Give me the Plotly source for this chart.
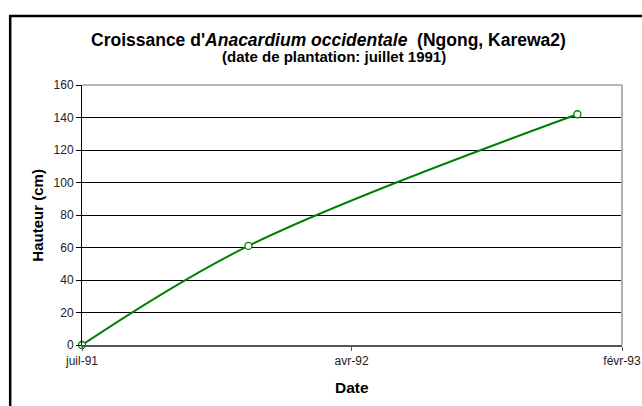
import plotly.graph_objects as go

# Data
dates = ["1991-07-01", "1991-12-27", "1992-12-15"]
heights = [0, 61, 142]

x_range = ["1991-07-01", "1993-02-01"]
x_tickvals = ["1991-07-01", "1992-04-16", "1993-02-01"]
x_ticktext = ["juil-91", "avr-92", "févr-93"]
y_tickvals = [0, 20, 40, 60, 80, 100, 120, 140, 160]

FONT = "Liberation Sans, Arial, sans-serif"

fig = go.Figure()
fig.add_trace(go.Scatter(x=dates,
                         y=heights,
                         mode="lines+markers",
                         line=dict(color="#008000", width=2, shape="spline"),
                         marker=dict(symbol="circle",
                                     size=7,
                                     color="white",
                                     line=dict(color="#008000", width=1.3)),
                         cliponaxis=False,
                         showlegend=False))

fig.update_layout(
    width=642,
    height=406,
    autosize=False,
    margin=dict(l=82, r=20, t=85, b=61),
    paper_bgcolor="white",
    plot_bgcolor="white",
    font=dict(family=FONT, color="black"),
    xaxis=dict(type="date",
               range=x_range,
               tickvals=x_tickvals,
               ticktext=x_ticktext,
               tickfont=dict(size=12, color="#222"),
               automargin=False,
               showgrid=False,
               zeroline=False,
               showline=True,
               linecolor="#555",
               linewidth=2,
               ticks="outside",
               ticklen=4,
               tickcolor="#555",
               fixedrange=True),
    yaxis=dict(range=[0, 160],
               tickvals=y_tickvals,
               tickfont=dict(size=12, color="#222"),
               automargin=False,
               showgrid=True,
               gridcolor="black",
               gridwidth=1,
               zeroline=False,
               showline=True,
               linecolor="black",
               linewidth=1,
               ticks="outside",
               ticklen=5,
               tickcolor="black",
               fixedrange=True),
)

# plot area border (top and right) in grey
fig.add_shape(type="line", xref="paper", yref="paper", x0=0, x1=1, y0=1, y1=1,
              line=dict(color="#a0a0a0", width=1.5), layer="above")
fig.add_shape(type="line", xref="paper", yref="paper", x0=1, x1=1, y0=0, y1=1,
              line=dict(color="#b0b0b0", width=2), layer="above")
# outer chart frame, runs off the right and bottom edges
fig.add_shape(type="rect", xref="paper", yref="paper",
              x0=-0.133, x1=1.2, y0=-0.4, y1=1.265,
              line=dict(color="black", width=2.5), layer="above")

fig.add_annotation(xref="paper", yref="paper", x=0.457, y=1.174,
                   text="<b>Croissance d'<i>Anacardium occidentale</i>  (Ngong, Karewa2)</b>",
                   showarrow=False, font=dict(size=17.5), xanchor="center", yanchor="middle")
fig.add_annotation(xref="paper", yref="paper", x=0.466, y=1.108,
                   text="<b>(date de plantation: juillet 1991)</b>",
                   showarrow=False, font=dict(size=15), xanchor="center", yanchor="middle")
fig.add_annotation(xref="paper", yref="paper", x=0.5, y=-0.162,
                   text="<b>Date</b>",
                   showarrow=False, font=dict(size=15.5), xanchor="center", yanchor="middle")
fig.add_annotation(xref="paper", yref="paper", x=-0.084, y=0.5,
                   text="<b>Hauteur (cm)</b>", textangle=-90,
                   showarrow=False, font=dict(size=15), xanchor="center", yanchor="middle")

fig.write_html("out.html", config={"displayModeBar": False, "responsive": False},
               post_script="document.body.style.margin='0';"
                           "document.documentElement.style.overflow='hidden';")
